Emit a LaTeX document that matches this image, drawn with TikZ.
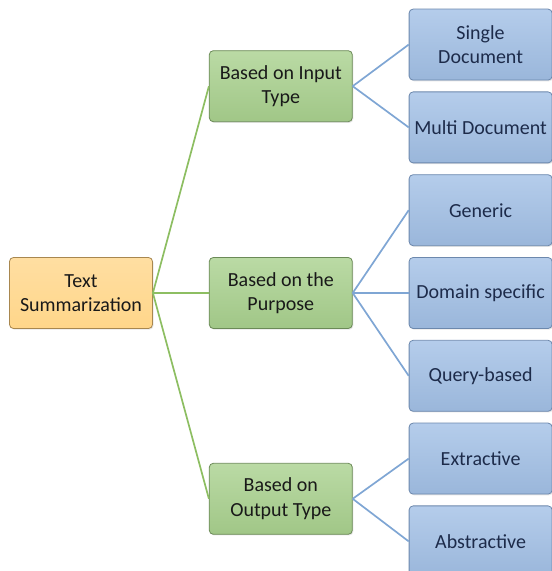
\documentclass[tikz,border=0pt]{standalone}
\usepackage{fontspec}
\setmainfont{Carlito}
\usepackage{xcolor}
\usepackage{tikz}
\usetikzlibrary{positioning,shadows}
\definecolor{rootfill}{HTML}{FFD68A}
\definecolor{rootedge}{HTML}{A8874F}
\definecolor{midfill}{HTML}{A9D18E}
\definecolor{midedge}{HTML}{6B8A57}
\definecolor{leaffill}{HTML}{A2C0E6}
\definecolor{leafedge}{HTML}{6C88AD}
\definecolor{midline}{HTML}{8DBE62}
\definecolor{leafline}{HTML}{7FA6D4}
\definecolor{leaftext}{HTML}{1D2B4A}

\begin{document}
\begin{tikzpicture}[
  box/.style={draw,rounded corners=4pt,line width=0.8pt,minimum width=143pt,minimum height=71pt,
    align=center,font=\fontsize{20}{24.5}\selectfont,
    drop shadow={opacity=0.2,shadow xshift=1pt,shadow yshift=-1.2pt}},
  rootbox/.style={box,draw=rootedge,top color=rootfill!80!white,bottom color=rootfill,text=black!90},
  midbox/.style={box,draw=midedge,top color=midfill!80!white,bottom color=midfill!95!black,text=black!90},
  leafbox/.style={box,draw=leafedge,top color=leaffill!80!white,bottom color=leaffill!95!black,text=leaftext},
  tomid/.style={draw=midline,line width=1.7pt},
  toleaf/.style={draw=leafline,line width=1.7pt}]
  \useasboundingbox (0pt,0pt) rectangle (552pt,571pt);
  \node[rootbox] (root) at (81pt,278pt) {Text\\Summarization};
  \node[midbox,right=56pt of root] (purpose) {Based on the\\Purpose};
  \node[midbox,above=135pt of purpose] (input) {Based on Input\\Type};
  \node[midbox,below=134pt of purpose] (output) {Based on\\Output Type};
  \node[leafbox,right=56pt of purpose] (domain) {Domain specific};
  \node[leafbox,above=11pt of domain] (generic) {Generic};
  \node[leafbox,above=11pt of generic] (multi) {Multi Document};
  \node[leafbox,above=11pt of multi] (single) {Single\\Document};
  \node[leafbox,below=11pt of domain] (query) {Query-based};
  \node[leafbox,below=11pt of query] (extractive) {Extractive};
  \node[leafbox,below=11pt of extractive] (abstractive) {Abstractive};
  % root to the three kinds
  \draw[tomid] (root.east) -- (input.west);
  \draw[tomid] (root.east) -- (purpose.west);
  \draw[tomid] (root.east) -- (output.west);
  % kinds to their leaves
  \draw[toleaf] (input.east) -- (single.west);
  \draw[toleaf] (input.east) -- (multi.west);
  \draw[toleaf] (purpose.east) -- (generic.west);
  \draw[toleaf] (purpose.east) -- (domain.west);
  \draw[toleaf] (purpose.east) -- (query.west);
  \draw[toleaf] (output.east) -- (extractive.west);
  \draw[toleaf] (output.east) -- (abstractive.west);
\end{tikzpicture}
\end{document}
